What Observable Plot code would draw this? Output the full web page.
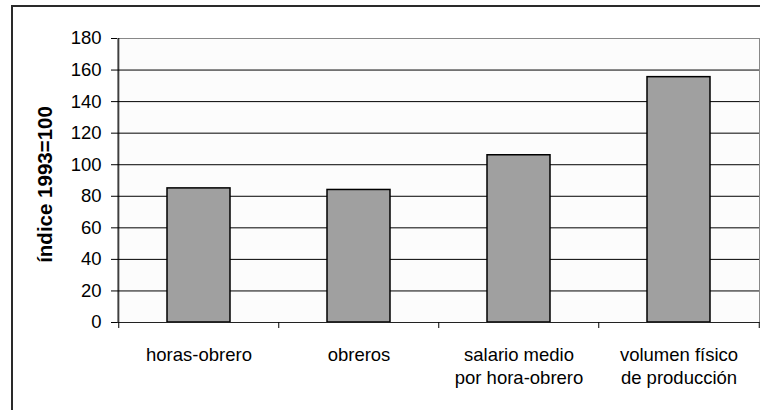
<!DOCTYPE html>
<html><head><meta charset="utf-8">
<script src="https://cdn.jsdelivr.net/npm/d3@7"></script>
<script src="https://cdn.jsdelivr.net/npm/@observablehq/plot@0.6"></script>
<style>
body{margin:0;background:#fff;}
#wrap{position:relative;width:760px;height:410px;overflow:hidden;background:#fff;font-family:"Liberation Sans",Arial,sans-serif;}
#wrap svg{position:absolute;left:0;top:0;background:transparent;}
#border{position:absolute;left:11px;top:5px;width:800px;height:450px;border:2px solid #2a2a2a;pointer-events:none;z-index:2;}
</style></head>
<body><div id="wrap"><div id="border"></div></div>
<script>
const categories = ["horas-obrero", "obreros", "salario medio por hora-obrero", "volumen físico de producción"];
const tickLabels = ["horas-obrero", "obreros", "salario medio\npor hora-obrero", "volumen físico\nde producción"];
const values = [85, 84, 106, 155.5];
const yTicks = [0, 20, 40, 60, 80, 100, 120, 140, 160, 180];
const yLabel = "índice 1993=100";

const data = categories.map((c, i) => ({cat: c, val: values[i]}));
const W = 760, H = 410, mL = 117, mR = 1, mT = 38, mB = 88;
const step = (W - mL - mR) / categories.length;

const chart = Plot.plot({
  width: W, height: H,
  marginLeft: mL, marginRight: mR, marginTop: mT, marginBottom: mB,
  style: {fontFamily: '"Liberation Sans", Arial, sans-serif', fontSize: "18.5px", color: "#000", background: "transparent"},
  x: {type: "band", domain: categories, paddingInner: 0.607, paddingOuter: 0.3035, label: null},
  y: {domain: [0, 180], label: null},
  marks: [
    Plot.frame({fill: "#fcfcfc", stroke: "#888"}),
    Plot.gridY(yTicks.filter(t => t > 0 && t < 180), {stroke: "#000", strokeOpacity: 1}),
    Plot.barY(data, {x: "cat", y: "val", fill: "#a0a0a0", stroke: "#000", strokeWidth: 1.5}),
    Plot.ruleY([0], {stroke: "#222"}),
    Plot.ruleX([categories[0]], {dx: -step / 2, stroke: "#000"}),
    Plot.axisY({ticks: yTicks, tickSize: 6, tickPadding: 10, fontSize: 18.5, stroke: "#000"}),
    Plot.axisX({tickSize: 6, dx: -step / 2, tickFormat: () => "", stroke: "#000"}),
    Plot.axisX({ticks: [categories[3]], tickSize: 6, dx: step / 2, tickFormat: () => "", stroke: "#000"}),
    Plot.axisX({tickSize: 0, tickPadding: 22, fontSize: 18.5, lineHeight: 1.25,
      tickFormat: d => tickLabels[categories.indexOf(d)]}),
    Plot.text([yLabel], {frameAnchor: "left", rotate: -90, dx: -72, dy: 4, textAnchor: "middle", text: d => d, fontWeight: "bold", fontSize: 20.5, fill: "#000"})
  ]
});
document.getElementById("wrap").appendChild(chart);
</script></body></html>
